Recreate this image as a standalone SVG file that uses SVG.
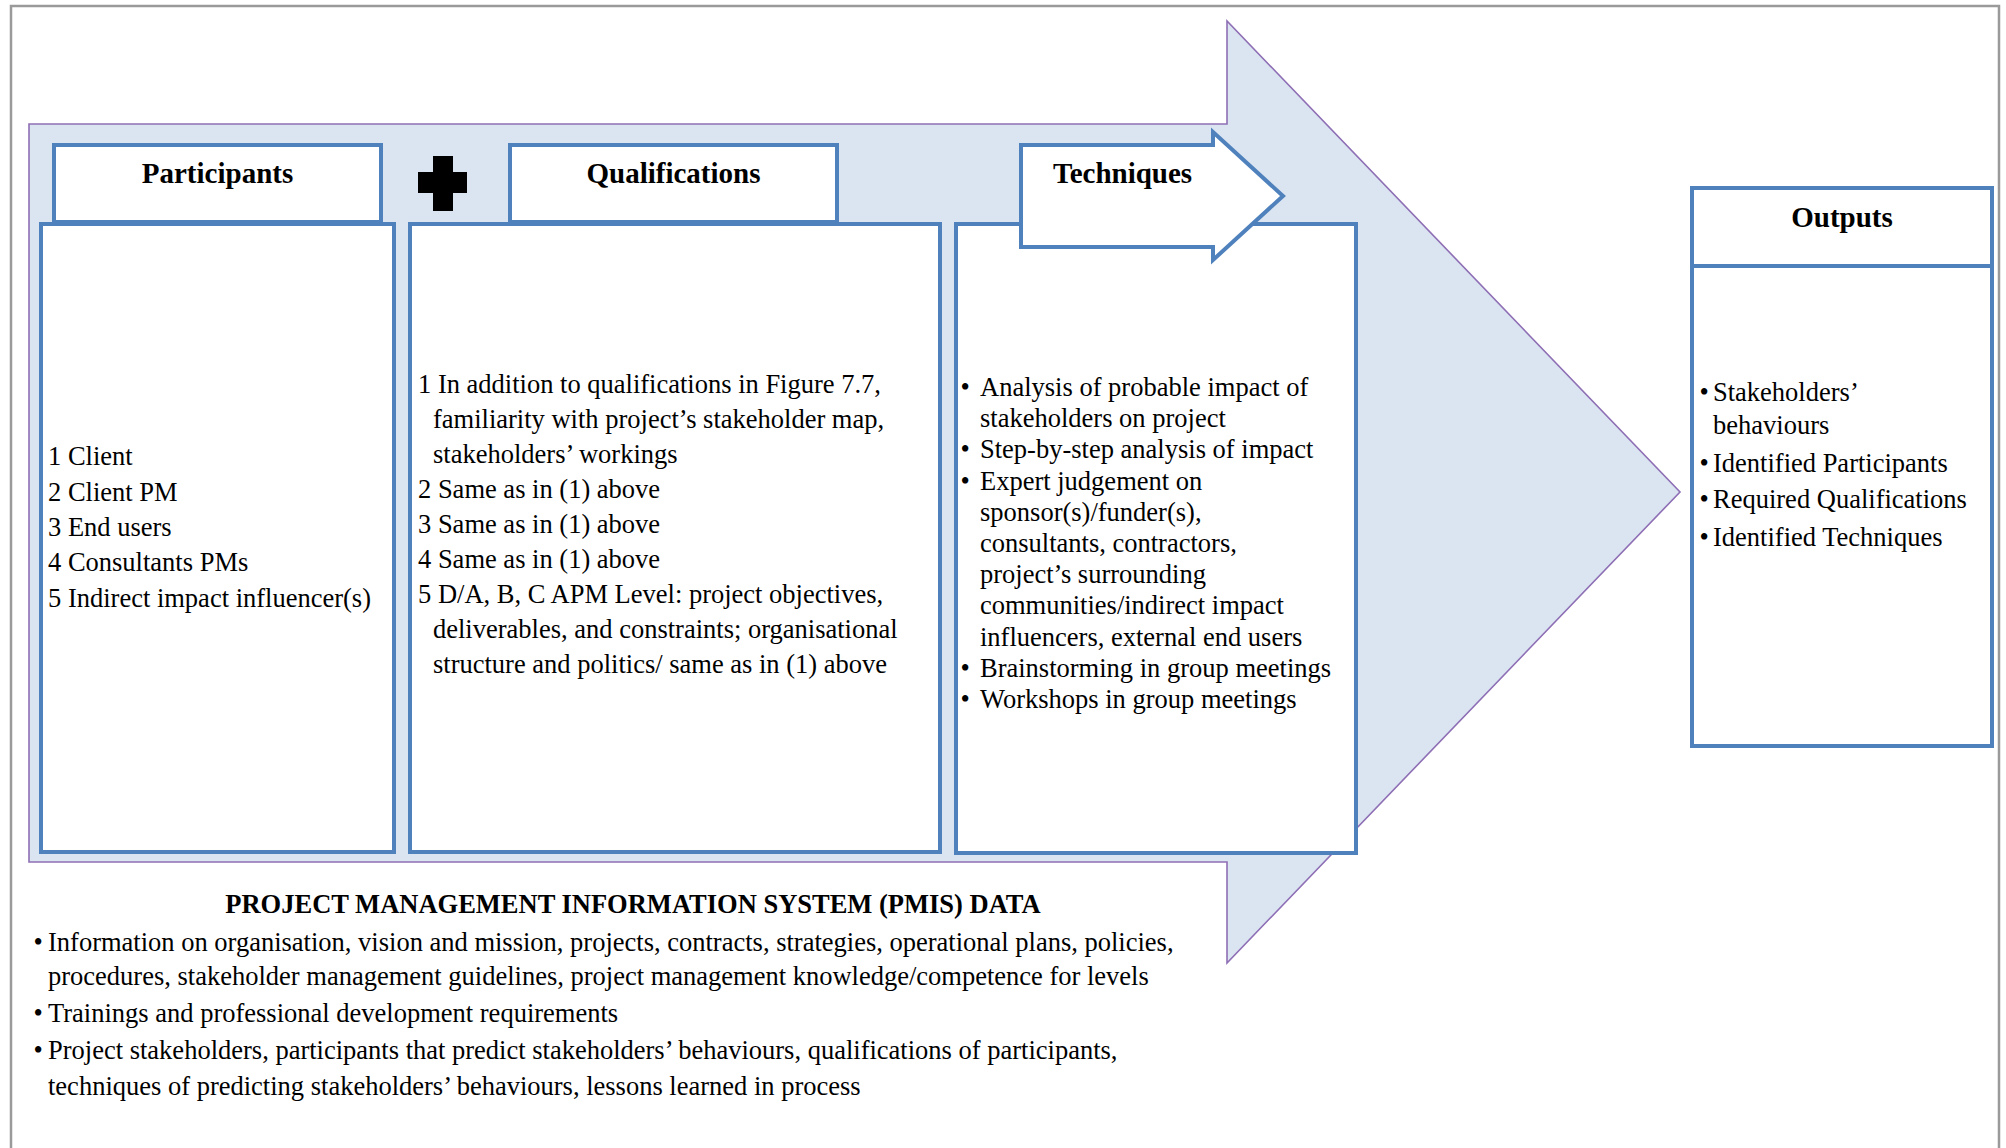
<svg xmlns="http://www.w3.org/2000/svg" width="2006" height="1148" viewBox="0 0 2006 1148">
<style>
text{font-family:"Liberation Serif","Times New Roman",serif;fill:#000}
.hd{font-size:29px;font-weight:bold}
.tx{font-size:26.5px}
.ti{font-size:26.5px;font-weight:bold}
.box{fill:#fff;stroke:#4F81BD;stroke-width:4}
.big{fill:#DBE5F1;stroke:#8E6FB5;stroke-width:1.6}
</style>
<rect x="0" y="0" width="2006" height="1148" fill="#fff"/>
<g id="frame"><path d="M11,1150 V6 H1999 V1150" fill="none" stroke="#9A9A9A" stroke-width="2.5"/></g>
<g id="process-arrow"><polygon class="big" points="29,124 1227,124 1227,21 1680,492 1227,963 1227,862 29,862"/></g>
<g id="connectors"></g>
<g id="participants">
<rect class="box" x="54" y="145" width="327" height="77"/>
<rect class="box" x="41" y="224" width="353" height="628"/>
<text class="hd" x="217.5" y="183" text-anchor="middle">Participants</text>
<text class="tx" x="48"><tspan x="48" y="465">1 Client</tspan><tspan x="48" y="500.5">2 Client PM</tspan><tspan x="48" y="536">3 End users</tspan><tspan x="48" y="571">4 Consultants PMs</tspan><tspan x="48" y="606.5">5 Indirect impact influencer(s)</tspan></text>
</g>
<g id="plus"><path d="M433,156 H453 V172 H467 V193 H453 V211 H433 V193 H418 V172 H433 Z" fill="#000"/></g>
<g id="qualifications">
<rect class="box" x="510" y="145" width="327" height="77"/>
<rect class="box" x="410" y="224" width="530" height="628"/>
<text class="hd" x="673.5" y="183" text-anchor="middle">Qualifications</text>
<text class="tx"><tspan x="418" y="393">1 In addition to qualifications in Figure 7.7,</tspan><tspan x="433" y="428">familiarity with project’s stakeholder map,</tspan><tspan x="433" y="463">stakeholders’ workings</tspan><tspan x="418" y="498">2 Same as in (1) above</tspan><tspan x="418" y="533">3 Same as in (1) above</tspan><tspan x="418" y="568">4 Same as in (1) above</tspan><tspan x="418" y="603">5 D/A, B, C  APM Level: project objectives,</tspan><tspan x="433" y="638">deliverables, and constraints; organisational</tspan><tspan x="433" y="673">structure and politics/ same as in (1) above</tspan></text>
</g>
<g id="techniques">
<rect class="box" x="956" y="224" width="400" height="629"/>
<polygon class="box" points="1021,145 1213,145 1213,132 1283,196 1213,260 1213,247 1021,247"/>
<text class="hd" x="1053" y="183">Techniques</text>
<text class="tx"><tspan x="960.5" y="396">•</tspan><tspan x="980" y="396">Analysis of probable impact of</tspan><tspan x="980" y="427.2">stakeholders on project</tspan><tspan x="960.5" y="458.4">•</tspan><tspan x="980" y="458.4">Step-by-step analysis of impact</tspan><tspan x="960.5" y="489.6">•</tspan><tspan x="980" y="489.6">Expert judgement on</tspan><tspan x="980" y="520.8">sponsor(s)/funder(s),</tspan><tspan x="980" y="552">consultants, contractors,</tspan><tspan x="980" y="583.2">project’s surrounding</tspan><tspan x="980" y="614.4">communities/indirect impact</tspan><tspan x="980" y="645.6">influencers, external end users</tspan><tspan x="960.5" y="676.8">•</tspan><tspan x="980" y="676.8">Brainstorming in group meetings</tspan><tspan x="960.5" y="708">•</tspan><tspan x="980" y="708">Workshops in group meetings</tspan></text>
</g>
<g id="outputs">
<rect class="box" x="1692" y="188" width="300" height="78"/>
<rect class="box" x="1692" y="266" width="300" height="480"/>
<text class="hd" x="1842" y="227" text-anchor="middle">Outputs</text>
<text class="tx"><tspan x="1699.5" y="400.5">•</tspan><tspan x="1713" y="400.5">Stakeholders’</tspan><tspan x="1713" y="434">behaviours</tspan><tspan x="1699.5" y="472">•</tspan><tspan x="1713" y="472">Identified Participants</tspan><tspan x="1699.5" y="508">•</tspan><tspan x="1713" y="508">Required Qualifications</tspan><tspan x="1699.5" y="546">•</tspan><tspan x="1713" y="546">Identified Techniques</tspan></text>
</g>
<g id="pmis">
<text class="ti" x="633" y="913" text-anchor="middle">PROJECT MANAGEMENT INFORMATION SYSTEM (PMIS) DATA</text>
<text class="tx"><tspan x="33.5" y="950.5">•</tspan><tspan x="48" y="950.5">Information on organisation, vision and mission, projects, contracts, strategies, operational plans, policies,</tspan><tspan x="48" y="985">procedures, stakeholder management guidelines, project management knowledge/competence for levels</tspan><tspan x="33.5" y="1022">•</tspan><tspan x="48" y="1022">Trainings and professional development requirements</tspan><tspan x="33.5" y="1059">•</tspan><tspan x="48" y="1059">Project stakeholders, participants that predict stakeholders’ behaviours, qualifications of participants,</tspan><tspan x="48" y="1095">techniques of predicting stakeholders’ behaviours, lessons learned in process</tspan></text>
</g>
</svg>
